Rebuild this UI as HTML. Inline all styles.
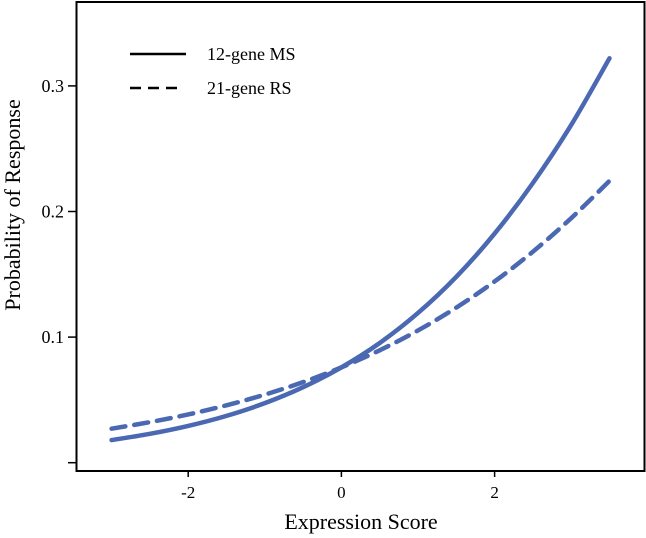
<!DOCTYPE html>
<html><head><meta charset="utf-8"><style>
html,body{margin:0;padding:0;background:#fff}
svg{display:block;font-family:"Liberation Serif",serif}
</style></head><body>
<svg id="chart" width="646" height="538" viewBox="0 0 646 538">
<rect x="76.5" y="2" width="568" height="469" fill="none" stroke="#000" stroke-width="2"/>
<g id="axes"></g>
<g id="series"></g>
<g>
<line x1="130" y1="54" x2="186" y2="54" stroke="#000" stroke-width="2.5"/>
<text x="207" y="60" font-size="18">12-gene MS</text>
<line x1="130" y1="88" x2="184" y2="88" stroke="#000" stroke-width="2.5" stroke-dasharray="11,7"/>
<text x="207" y="94" font-size="18">21-gene RS</text>
</g>
<text x="361" y="529" font-size="22" text-anchor="middle">Expression Score</text>
<text transform="translate(20,205) rotate(-90)" font-size="22" text-anchor="middle">Probability of Response</text>
</svg>
<script>
const xValues=[-3,-2.5,-2,-1.5,-1,-0.5,0,0.5,1,1.5,2,2.5,3,3.5];
const ms12=[0.0180,0.0230,0.0293,0.0373,0.0474,0.0601,0.0759,0.0953,0.1192,0.1480,0.1824,0.2227,0.2689,0.3220];
const rs21=[0.0271,0.0323,0.0384,0.0457,0.0542,0.0642,0.0759,0.0895,0.1053,0.1235,0.1443,0.1680,0.1947,0.2244];
const xTicks=[-2,0,2];
const xTickLabels=["-2","0","2"];
const yTicks=[0,0.1,0.2,0.3];
const yTickLabels=["","0.1","0.2","0.3"];
const NS="http://www.w3.org/2000/svg";
function sx(v){return 341.4+v*76.6;}
function sy(v){return 462.7-v*1256;}
const axes=document.getElementById('axes');
xTicks.forEach((t,i)=>{
  const l=document.createElementNS(NS,'line');
  l.setAttribute('x1',sx(t));l.setAttribute('x2',sx(t));l.setAttribute('y1',471);l.setAttribute('y2',477);
  l.setAttribute('stroke','#000');l.setAttribute('stroke-width','1.5');
  
  
  axes.appendChild(l);
  const tx=document.createElementNS(NS,'text');
  tx.setAttribute('x',sx(t));tx.setAttribute('y',498);tx.setAttribute('font-size','17');tx.setAttribute('text-anchor','middle');
  tx.textContent=xTickLabels[i];
  
  
  axes.appendChild(tx);
});
yTicks.forEach((t,i)=>{
  const l=document.createElementNS(NS,'line');
  l.setAttribute('x1',68);l.setAttribute('x2',76.5);l.setAttribute('y1',sy(t));l.setAttribute('y2',sy(t));
  l.setAttribute('stroke','#000');l.setAttribute('stroke-width','1.5');
  
  
  axes.appendChild(l);
  const tx=document.createElementNS(NS,'text');
  tx.setAttribute('x',64);tx.setAttribute('y',sy(t)+6);tx.setAttribute('font-size','18');tx.setAttribute('text-anchor','end');
  tx.textContent=yTickLabels[i];
  
  
  axes.appendChild(tx);
});
function pathFor(vals){
  const p=xValues.map((x,i)=>[sx(x),sy(vals[i])]);
  let d='M'+p[0][0]+','+p[0][1];
  for(let i=0;i<p.length-1;i++){
    const p0=p[Math.max(0,i-1)],p1=p[i],p2=p[i+1],p3=p[Math.min(p.length-1,i+2)];
    const c1=[p1[0]+(p2[0]-p0[0])/6,p1[1]+(p2[1]-p0[1])/6];
    const c2=[p2[0]-(p3[0]-p1[0])/6,p2[1]-(p3[1]-p1[1])/6];
    d+=' C'+c1+' '+c2+' '+p2;
  }
  return d;
}
const series=document.getElementById('series');
const s1=document.createElementNS(NS,'path');
s1.setAttribute('d',pathFor(ms12));s1.setAttribute('fill','none');s1.setAttribute('stroke','#4a69b2');s1.setAttribute('stroke-width','4.5');s1.setAttribute('stroke-linecap','round');


series.appendChild(s1);
const s2=document.createElementNS(NS,'path');
s2.setAttribute('d',pathFor(rs21));s2.setAttribute('fill','none');s2.setAttribute('stroke','#4a69b2');s2.setAttribute('stroke-width','4.5');s2.setAttribute('stroke-dasharray','14,9');s2.setAttribute('stroke-linecap','round');


series.appendChild(s2);
</script>
</body></html>
